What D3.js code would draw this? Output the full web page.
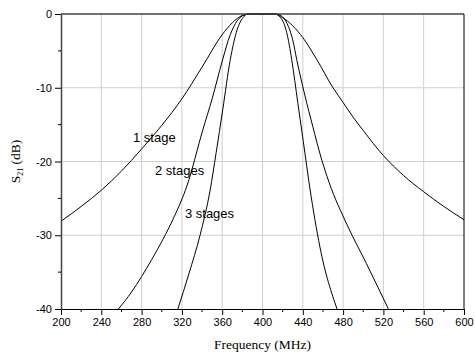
<!DOCTYPE html>
<meta charset="utf-8">
<script src="https://d3js.org/d3.v7.min.js"></script>
<style>
  body { margin: 0; background: #fff; }
</style>
<div id="chart"></div>
<script>

// data (frequency in MHz, S21 in dB)
var stage1Freq = [200, 220, 240, 260, 280, 300, 320, 340, 360, 370, 380, 388, 400, 412, 420, 430, 440, 454, 470, 480, 490, 500, 520, 540, 560, 580, 600];
var stage1Db   = [-28.1, -26.1, -23.9, -21.3, -18.3, -15.1, -11.5, -7.2, -2.8, -1.2, -0.2, 0, 0, 0, -0.5, -1.6, -3.2, -6.2, -10, -12, -14, -15.8, -19.2, -21.9, -24.1, -26.1, -27.9];

var stage2Freq = [257, 270, 280, 290, 301, 312, 325, 341, 350, 360, 368, 375, 382, 386, 400, 414, 420, 426, 430, 434, 442, 450, 458, 466, 484, 503, 525];
var stage2Db   = [-40, -37.7, -35.6, -33.3, -30.6, -27.6, -23.3, -15.6, -11.5, -6.4, -2.8, -0.9, -0.1, 0, 0, 0, -0.4, -1.8, -3.5, -6.2, -11, -15.3, -19.4, -22.8, -28.6, -33.8, -40];

var stage3Freq = [316, 327, 338, 348, 354, 360.5, 368, 374, 380, 386, 400, 412, 418, 424, 429, 435, 440.5, 447, 457, 474];
var stage3Db   = [-40, -35.2, -30, -23.9, -18.8, -13, -6.2, -2.5, -0.6, 0, 0, 0, -0.5, -2.5, -6.2, -12, -17.3, -23.6, -31.6, -40];

var labelText = ["1 stage", "2 stages", "3 stages"];
var labelFreq = [271.5, 293.3, 323];
var labelDb   = [-17.4, -21.8, -27.7];

var xTicks = [200, 240, 280, 320, 360, 400, 440, 480, 520, 560, 600];
var xMinor = d3.range(220, 600, 40);
var yTicks = [0, -10, -20, -30, -40];
var yMinor = [-5, -15, -25, -35];

var width = 475, height = 360;
var svg = d3.select("#chart").append("svg")
  .attr("width", width)
  .attr("height", height);

var x = d3.scaleLinear().domain([200, 600]).range([61, 464]);
var y = d3.scaleLinear().domain([-40, 0]).range([309, 14]);

// grid
svg.append("g").selectAll("line").data(xTicks.slice(1, -1)).enter().append("line")
  .attr("x1", d => x(d)).attr("x2", d => x(d))
  .attr("y1", y(0)).attr("y2", y(-40))
  .attr("stroke", "#cfcfcf").attr("stroke-width", 1);
svg.append("g").selectAll("line").data(yTicks.slice(1, -1)).enter().append("line")
  .attr("x1", x(200)).attr("x2", x(600))
  .attr("y1", d => y(d)).attr("y2", d => y(d))
  .attr("stroke", "#cfcfcf").attr("stroke-width", 1);

// curves
var line = d3.line()
  .x(d => x(d[0]))
  .y(d => y(d[1]))
  .curve(d3.curveMonotoneX);

var series = [
  d3.zip(stage1Freq, stage1Db),
  d3.zip(stage2Freq, stage2Db),
  d3.zip(stage3Freq, stage3Db)
];
svg.append("g").selectAll("path").data(series).enter().append("path")
  .attr("d", line)
  .attr("fill", "none")
  .attr("stroke", "#000")
  .attr("stroke-width", 1);

// frame: top and right
svg.append("line")
  .attr("x1", x(200)).attr("x2", x(600)).attr("y1", y(0)).attr("y2", y(0))
  .attr("stroke", "#444").attr("stroke-width", 1.5);
svg.append("line")
  .attr("x1", x(600)).attr("x2", x(600)).attr("y1", y(0)).attr("y2", y(-40))
  .attr("stroke", "#000").attr("stroke-width", 1);

// x axis
var xAxis = svg.append("g")
  .attr("transform", "translate(0," + y(-40) + ")")
  .call(d3.axisBottom(x).tickValues(xTicks).tickSize(6).tickSizeOuter(0).tickPadding(3));
xAxis.append("g").selectAll("line").data(xMinor).enter().append("line")
  .attr("x1", d => x(d)).attr("x2", d => x(d))
  .attr("y1", 0).attr("y2", 3)
  .attr("stroke", "#000");

// y axis (plain hyphen for the minus sign, like the original)
var yAxis = svg.append("g")
  .attr("transform", "translate(" + x(200) + ",0)")
  .call(d3.axisLeft(y).tickValues(yTicks).tickFormat(d => String(d)).tickSize(6).tickSizeOuter(0).tickPadding(3));
yAxis.append("g").selectAll("line").data(yMinor).enter().append("line")
  .attr("x1", 0).attr("x2", -3)
  .attr("y1", d => y(d)).attr("y2", d => y(d))
  .attr("stroke", "#000");
yAxis.select(".domain").attr("stroke", "#444").attr("stroke-width", 1.5);

svg.selectAll(".tick text")
  .attr("font-family", "Liberation Sans, Arial, sans-serif")
  .attr("font-size", 11)
  .attr("fill", "#000");

// curve labels
svg.append("g").selectAll("text").data(labelText).enter().append("text")
  .attr("x", (d, i) => x(labelFreq[i]))
  .attr("y", (d, i) => y(labelDb[i]))
  .attr("font-family", "Liberation Sans, Arial, sans-serif")
  .attr("font-size", 13)
  .text(d => d);

// axis titles
svg.append("text")
  .attr("x", (x(200) + x(600)) / 2)
  .attr("y", 349)
  .attr("text-anchor", "middle")
  .attr("font-family", "Liberation Serif, Times New Roman, serif")
  .attr("font-size", 13.5)
  .text("Frequency (MHz)");

var yTitle = svg.append("text")
  .attr("transform", "translate(20," + (y(0) + y(-40)) / 2 + ") rotate(-90)")
  .attr("text-anchor", "middle")
  .attr("font-family", "Liberation Serif, Times New Roman, serif")
  .attr("font-size", 13.5);
yTitle.append("tspan").text("S");
yTitle.append("tspan").attr("font-size", 8).attr("dy", 3).text("21");
yTitle.append("tspan").attr("dy", -3).text(" (dB)");

</script>
